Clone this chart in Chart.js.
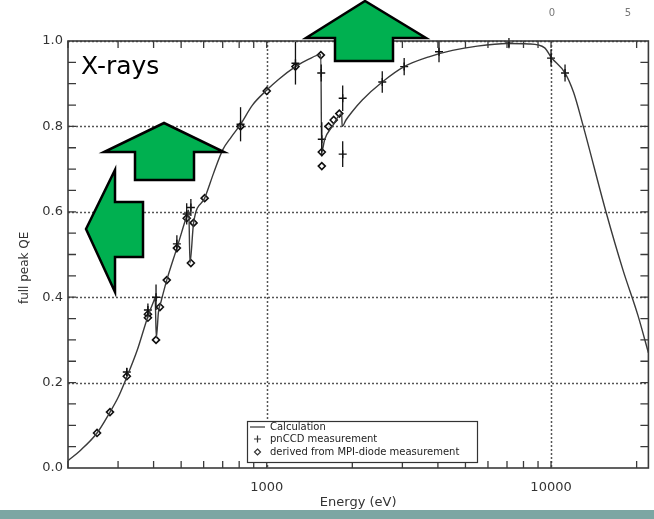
<!DOCTYPE html>
<html>
<head>
<meta charset="utf-8">
<script src="https://cdn.jsdelivr.net/npm/chart.js@4.4.1/dist/chart.umd.min.js"></script>
<style>
  html, body { margin: 0; padding: 0; background: #fff; }
  #wrap { width: 654px; height: 519px; }
</style>
</head>
<body>
<div id="wrap"><canvas id="qe" width="654" height="519"></canvas></div>
<script>
// calculated QE curve (energy in eV, QE)
const calcE = [200, 220, 253, 281, 300, 322, 350, 382, 400, 405, 409, 416, 425, 445, 483, 523, 532, 537, 553,
  605, 650, 700, 750, 809, 891, 1000, 1100, 1262, 1400, 1550, 1560, 1600, 1700, 1835, 1842, 1900, 2000,
  2168, 2549, 3044, 3720, 4500, 5500, 7000, 8356, 9500, 10000, 11200, 12000, 12950, 15600, 17900, 20200, 22000];
const calcQE = [0.017, 0.040, 0.082, 0.131, 0.165, 0.213, 0.275, 0.355, 0.390, 0.398, 0.305, 0.365, 0.390, 0.440, 0.515, 0.590, 0.604, 0.480, 0.574,
  0.632, 0.690, 0.745, 0.775, 0.805, 0.850, 0.885, 0.910, 0.940, 0.957, 0.968, 0.740, 0.770, 0.800, 0.830, 0.800, 0.815, 0.835,
  0.862, 0.904, 0.940, 0.963, 0.978, 0.988, 0.994, 0.993, 0.984, 0.962, 0.925, 0.880, 0.803, 0.600, 0.464, 0.358, 0.270];

// pnCCD measurement (+ with error bars)
const pnE = [322, 382, 408, 483, 523, 541, 809, 1262, 1555, 1562, 1850, 1850, 2549, 3044, 4036, 7111, 10000, 11200];
const pnQE = [0.225, 0.370, 0.400, 0.525, 0.595, 0.610, 0.805, 0.948, 0.925, 0.770, 0.866, 0.735, 0.904, 0.940, 0.975, 0.995, 0.960, 0.925];
const pnErr = [0.010, 0.015, 0.030, 0.020, 0.025, 0.020, 0.040, 0.050, 0.020, 0.040, 0.030, 0.030, 0.025, 0.020, 0.025, 0.012, 0.020, 0.020];

// derived from MPI-diode measurement (diamonds)
const diodeE = [253, 281, 322, 382, 382, 408, 421, 445, 483, 523, 541, 553, 605, 809, 1000, 1262, 1550, 1562, 1562, 1650, 1720, 1800];
const diodeQE = [0.082, 0.131, 0.215, 0.360, 0.352, 0.300, 0.377, 0.440, 0.515, 0.585, 0.480, 0.574, 0.632, 0.800, 0.883, 0.940, 0.967, 0.740, 0.707, 0.800, 0.815, 0.830];

const xLabels = [1000, 10000];
const xMinor = [200, 300, 400, 500, 600, 700, 800, 900, 1000, 2000, 3000, 4000, 5000, 6000, 7000, 8000, 9000, 10000, 20000];
const xGrid = [1000, 10000];
const yGrid = [0.2, 0.4, 0.6, 0.8, 1.0];
const legendLabels = ["Calculation", "pnCCD measurement", "derived from MPI-diode measurement"];

const pts = (xs, ys) => xs.map((x, i) => ({ x: x, y: ys[i] }));

const gridPlugin = {
  id: "qeGrid",
  beforeDatasetsDraw(chart) {
    const { ctx, chartArea: a, scales: { x, y } } = chart;
    ctx.save();
    ctx.strokeStyle = "#555";
    ctx.lineWidth = 1.5;
    ctx.setLineDash([2, 2]);
    xGrid.forEach(v => {
      const px = Math.round(x.getPixelForValue(v)) + 0.5;
      ctx.beginPath(); ctx.moveTo(px, a.top); ctx.lineTo(px, a.bottom); ctx.stroke();
    });
    yGrid.forEach(v => {
      const py = Math.round(y.getPixelForValue(v)) + 0.5;
      ctx.beginPath(); ctx.moveTo(a.left, py); ctx.lineTo(a.right, py); ctx.stroke();
    });
    ctx.restore();
  },
  afterDatasetsDraw(chart) {
    const { ctx, chartArea: a, scales: { x, y } } = chart;
    ctx.save();
    // error bars for the pnCCD points
    ctx.strokeStyle = "#111";
    ctx.lineWidth = 1.3;
    pnE.forEach((e, i) => {
      const px = x.getPixelForValue(e);
      ctx.beginPath();
      ctx.moveTo(px, y.getPixelForValue(pnQE[i] - pnErr[i]));
      ctx.lineTo(px, y.getPixelForValue(pnQE[i] + pnErr[i]));
      ctx.stroke();
    });
    // frame + inward ticks
    ctx.strokeStyle = "#3a3a3a";
    ctx.lineWidth = 1.6;
    ctx.strokeRect(a.left, a.top, a.right - a.left, a.bottom - a.top);
    ctx.lineWidth = 1.3;
    xMinor.forEach(v => {
      const px = x.getPixelForValue(v);
      ctx.beginPath();
      ctx.moveTo(px, a.bottom); ctx.lineTo(px, a.bottom - 7);
      ctx.moveTo(px, a.top); ctx.lineTo(px, a.top + 7);
      ctx.stroke();
    });
    for (let k = 1; k < 20; k++) {
      const py = y.getPixelForValue(k * 0.05);
      ctx.beginPath();
      ctx.moveTo(a.left, py); ctx.lineTo(a.left + 8, py);
      ctx.moveTo(a.right, py); ctx.lineTo(a.right - 8, py);
      ctx.stroke();
    }
    ctx.restore();
  },
  afterDraw(chart) {
    const { ctx } = chart;
    ctx.save();
    // legend box
    ctx.fillStyle = "#fff";
    ctx.fillRect(247, 421, 230, 41);
    ctx.strokeStyle = "#333";
    ctx.lineWidth = 1.2;
    ctx.strokeRect(247.5, 421.5, 230, 41);
    ctx.fillStyle = "#222";
    ctx.font = "10px 'DejaVu Sans'";
    ctx.textBaseline = "middle";
    ctx.beginPath(); ctx.moveTo(250, 427); ctx.lineTo(265, 427); ctx.stroke();
    ctx.beginPath();
    ctx.moveTo(254, 439); ctx.lineTo(261, 439);
    ctx.moveTo(257.5, 435.5); ctx.lineTo(257.5, 442.5);
    ctx.stroke();
    ctx.beginPath();
    ctx.moveTo(257.5, 449); ctx.lineTo(260.5, 452); ctx.lineTo(257.5, 455); ctx.lineTo(254.5, 452); ctx.closePath();
    ctx.stroke();
    legendLabels.forEach((t, i) => ctx.fillText(t, 270, 427 + i * 12.5));

    // X-rays label
    ctx.fillStyle = "#000";
    ctx.font = "25px 'DejaVu Sans'";
    ctx.textBaseline = "alphabetic";
    ctx.fillText("X-rays", 81, 74);

    // stray scale numbers in the top right corner
    ctx.fillStyle = "#777";
    ctx.font = "10px 'DejaVu Sans'";
    ctx.textAlign = "center";
    ctx.fillText("0", 552, 16);
    ctx.fillText("5", 628, 16);

    // green arrows
    const arrows = [
      [[365, 1], [426, 38], [393, 38], [393, 61], [335, 61], [335, 38], [306, 38]],
      [[164, 123], [224, 152], [194, 152], [194, 180], [135, 180], [135, 152], [104, 152]],
      [[86, 229], [115, 170], [115, 202], [143, 202], [143, 257], [115, 257], [115, 292]]
    ];
    ctx.fillStyle = "#00b050";
    ctx.strokeStyle = "#000";
    ctx.lineWidth = 2.5;
    ctx.lineJoin = "miter";
    arrows.forEach(p => {
      ctx.beginPath();
      p.forEach(([px, py], i) => i ? ctx.lineTo(px, py) : ctx.moveTo(px, py));
      ctx.closePath();
      ctx.fill();
      ctx.stroke();
    });

    // bottom band
    ctx.fillStyle = "#7ca6a3";
    ctx.fillRect(0, 510, 654, 9);
    ctx.restore();
  }
};

new Chart(document.getElementById("qe"), {
  type: "scatter",
  data: {
    datasets: [
      {
        label: legendLabels[0],
        data: pts(calcE, calcQE),
        showLine: true,
        borderColor: "#3a3a3a",
        borderWidth: 1.4,
        pointRadius: 0,
        cubicInterpolationMode: "monotone",
      },
      {
        label: legendLabels[1],
        data: pts(pnE, pnQE),
        pointStyle: "cross",
        pointRadius: 4,
        borderColor: "#111",
        borderWidth: 1.4,
      },
      {
        label: legendLabels[2],
        data: pts(diodeE, diodeQE),
        pointStyle: "rectRot",
        pointRadius: 3.5,
        borderColor: "#111",
        backgroundColor: "rgba(255,255,255,0.7)",
        borderWidth: 1.6,
      },
    ],
  },
  options: {
    responsive: false,
    animation: false,
    layout: { padding: { top: 41, right: 3, left: 0, bottom: 0 } },
    plugins: { legend: { display: false }, tooltip: { enabled: false } },
    scales: {
      x: {
        type: "logarithmic",
        min: 200,
        max: 22000,
        grid: { display: false, drawTicks: false },
        border: { display: false },
        ticks: {
          autoSkip: false,
          maxRotation: 0,
          padding: 12,
          color: "#333",
          font: { family: "DejaVu Sans", size: 13 },
          callback: v => (xLabels.includes(v) ? String(v) : ""),
        },
        title: {
          display: true,
          text: "Energy (eV)",
          color: "#333",
          font: { family: "DejaVu Sans", size: 13 },
          padding: { top: 0, bottom: 9 },
        },
        afterFit: s => { s.height = 51; s.paddingLeft = 0; s.paddingRight = 0; },
      },
      y: {
        min: 0,
        max: 1,
        grid: { display: false, drawTicks: false },
        border: { display: false },
        ticks: {
          stepSize: 0.2,
          padding: 5,
          color: "#333",
          font: { family: "DejaVu Sans", size: 13 },
          callback: v => v.toFixed(1),
        },
        title: {
          display: true,
          // trailing spaces push the label a little below the axis centre, like the original
          text: "full peak QE       ",
          color: "#333",
          font: { family: "DejaVu Sans", size: 12 },
          padding: { top: 18, bottom: 0 },
        },
        afterFit: s => { s.width = 68; s.paddingTop = 0; s.paddingBottom = 0; },
      },
    },
  },
  plugins: [gridPlugin],
});
</script>
</body>
</html>
